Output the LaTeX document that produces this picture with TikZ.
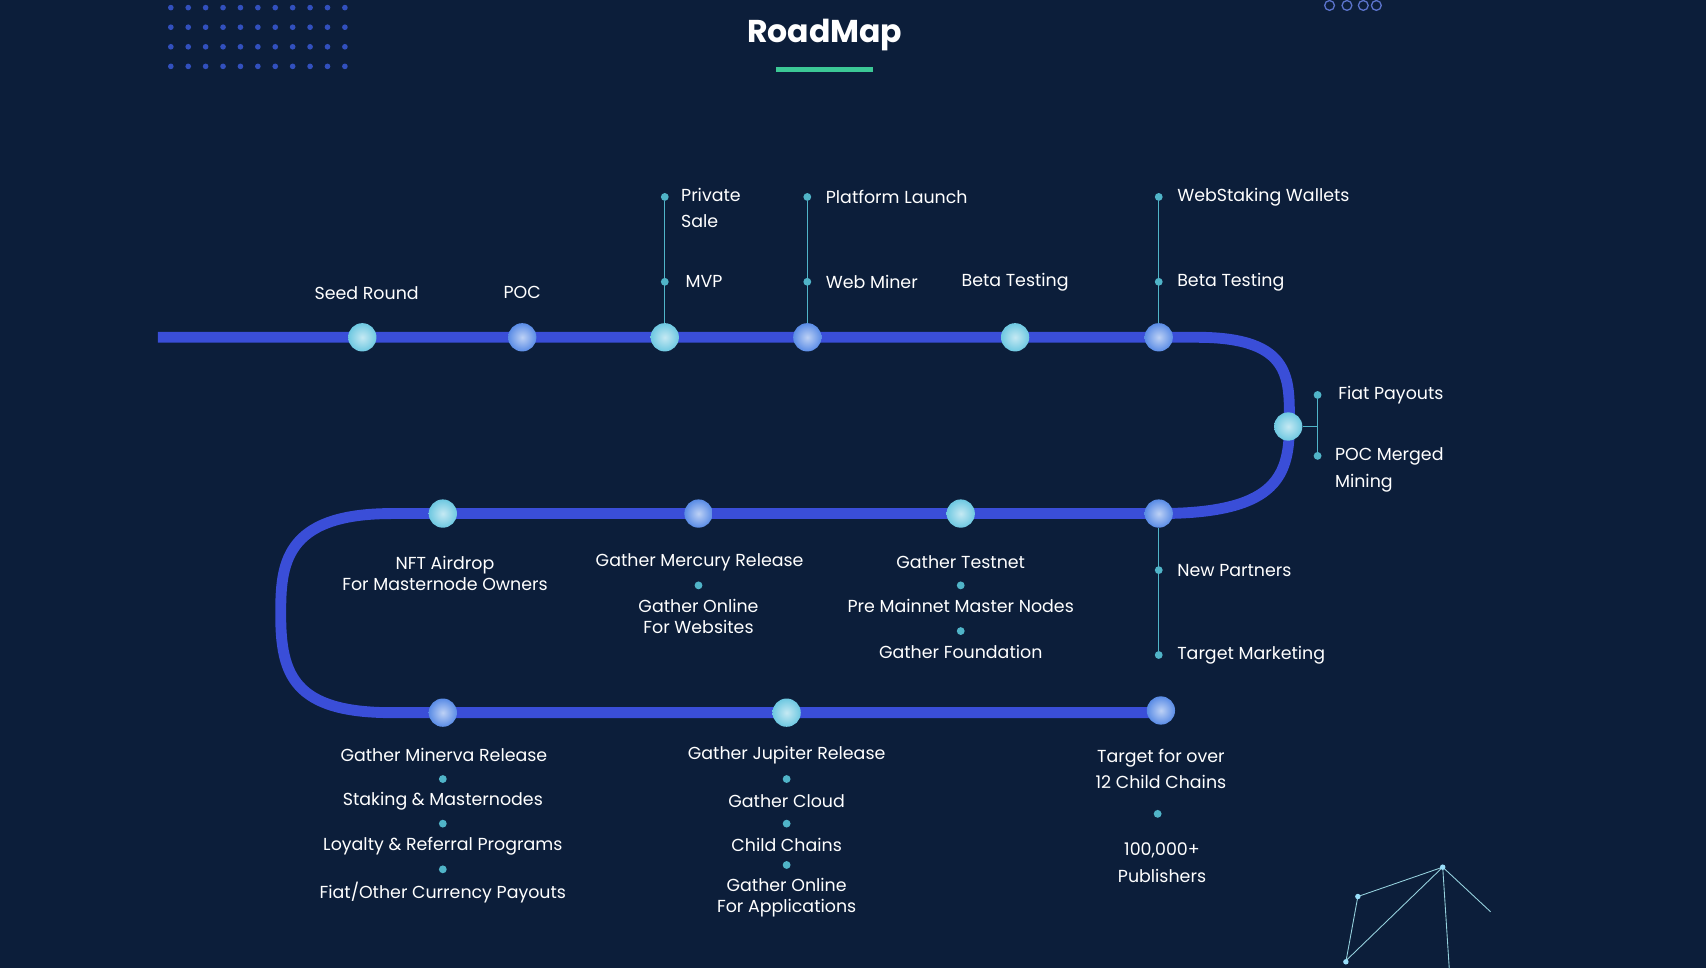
\documentclass[tikz,border=0pt]{standalone}
\usepackage{fontspec}
\setmainfont{Poppins}
\usetikzlibrary{positioning}
\definecolor{bgnavy}{RGB}{12,30,58}
\definecolor{trackblue}{RGB}{58,78,216}
\definecolor{tickteal}{RGB}{80,180,200}
\definecolor{dotblue}{RGB}{50,80,190}
\definecolor{titlegreen}{RGB}{60,200,150}
\definecolor{mscyan}{RGB}{110,200,225}
\definecolor{msblue}{RGB}{90,140,230}
\tikzset{
  every node/.append style={font=\fontsize{8}{9.6}\selectfont, text=white},
  milestone/.style={circle, minimum size=13pt, inner sep=0pt, inner color=#1!40!white, outer color=#1, draw=none},
  milestone/.default={mscyan},
  tick/.style={circle, fill=tickteal, minimum size=3.6pt, inner sep=0pt},
  stem/.style={draw=tickteal, line width=0.6pt},
  track/.style={draw=trackblue, line width=5pt}
}
\begin{document}
\begin{tikzpicture}[x=0.5pt, y=-0.5pt]
\fill[bgnavy] (0,0) rectangle (1568,890);
\useasboundingbox (0,0) rectangle (1568,890);

% decorations
\foreach \i in {0,...,10}
  \foreach \j in {0,...,3}
    \fill[dotblue] (157+\i*16, 7+\j*18) circle (2.6);
\foreach \cx in {1222,1238,1253,1265}
  \draw[dotblue!80, line width=0.6pt] (\cx,5) circle (4.5);
\draw[tickteal!60, line width=0.4pt] (1237,884) -- (1248,824) -- (1326,797) -- (1236,884)
  (1326,797) -- (1332,890) (1326,797) -- (1370,838);
\foreach \p in {(1248,824),(1326,797),(1237,884)}
  \fill[cyan!40!white] \p circle (2.5);

% title
\node[font=\bfseries\fontsize{14.5}{18}\selectfont] (title) at (758,32) {RoadMap};
\draw[titlegreen, line width=2pt] (713,64) -- (802,64);

% track
\draw[track] (145,310) -- (1100,310) .. controls (1190,310) and (1185,350) .. (1185,392)
  .. controls (1185,440) and (1170,472) .. (1065,472) -- (360,472)
  .. controls (260,472) and (258,520) .. (258,565)
  .. controls (258,620) and (270,655) .. (360,655) -- (1067,655);

% row 1
\node[milestone] (seed) at (333,310) {};
\node[milestone=msblue] (poc) at (480,310) {};
\node[milestone] (priv) at (611,310) {};
\node[milestone=msblue] (plat) at (742,310) {};
\node[milestone] (beta) at (933,310) {};
\node[milestone=msblue] (web) at (1065,310) {};
\node at (337,269) {Seed Round};
\node at (480,269) {POC};
\node at (933,259) {Beta Testing};

\node[tick] (privA) at (611,181) {};
\node[tick] (privB) at (611,259) {};
\draw[stem] (priv) -- (privA);
\node[anchor=west, align=left] at (619,191) {Private\\[2.5pt]Sale};
\node[right=4pt of privB] {MVP};

\node[tick] (platA) at (742,181) {};
\node[tick] (platB) at (742,259) {};
\draw[stem] (plat) -- (platA);
\node[right=3pt of platA] {Platform Launch};
\node[right=3pt of platB] {Web Miner};

\node[tick] (webA) at (1065,181) {};
\node[tick] (webB) at (1065,259) {};
\draw[stem] (web) -- (webA);
\node[right=3pt of webA] {WebStaking Wallets};
\node[right=3pt of webB] {Beta Testing};

% turn
\node[milestone] (fiat) at (1184,392) {};
\node[tick] (fiatA) at (1211,363) {};
\node[tick] (fiatB) at (1211,419) {};
\draw[stem] (fiat) -- (1211,392) (fiatA) -- (fiatB);
\node[right=4pt of fiatA] {Fiat Payouts};
\node[anchor=west, align=left] at (1220,432) {POC Merged\\[2.5pt]Mining};

% row 2
\node[milestone] (nft) at (407,472) {};
\node[milestone=msblue] (merc) at (642,472) {};
\node[milestone] (test) at (883,472) {};
\node[milestone=msblue] (part) at (1065,472) {};
\node[align=center] at (409,527) {NFT Airdrop\\For Masternode Owners};
\node at (643,517) {Gather Mercury Release};
\node[tick] (mercT) at (642,538) {};
\node[below=1pt of mercT, align=center] {Gather Online\\For Websites};
\node at (883,517) {Gather Testnet};
\node[tick] (testT1) at (883,538) {};
\node[below=1pt of testT1] {Pre Mainnet Master Nodes};
\node[tick] (testT2) at (883,580) {};
\node[below=1pt of testT2] {Gather Foundation};
\node[tick] (partA) at (1065,524) {};
\node[tick] (partB) at (1065,602) {};
\draw[stem] (part) -- (partB);
\node[right=3pt of partA] {New Partners};
\node[right=3pt of partB] {Target Marketing};

% row 3
\node[milestone=msblue] (min) at (407,655) {};
\node[milestone] (jup) at (723,655) {};
\node[milestone=msblue] (chain) at (1067,653) {};
\node at (408,694) {Gather Minerva Release};
\node[tick] (minT1) at (407,716) {};
\node at (407,736) {Staking \& Masternodes};
\node[tick] (minT2) at (407,757) {};
\node at (407,778) {Loyalty \& Referral Programs};
\node[tick] (minT3) at (407,799) {};
\node at (407,820) {Fiat/Other Currency Payouts};
\node at (723,694) {Gather Jupiter Release};
\node[tick] (jupT1) at (723,716) {};
\node at (723,736) {Gather Cloud};
\node[tick] (jupT2) at (723,757) {};
\node at (723,777) {Child Chains};
\node[tick] (jupT3) at (723,795) {};
\node[align=center] at (723,825) {Gather Online\\For Applications};
\node[align=center] at (1067,707) {Target for over\\[2.5pt]12 Child Chains};
\node[tick] (chainT) at (1064,748) {};
\node[align=center] at (1068,793) {100,000+\\[2.5pt]Publishers};
\end{tikzpicture}
\end{document}
